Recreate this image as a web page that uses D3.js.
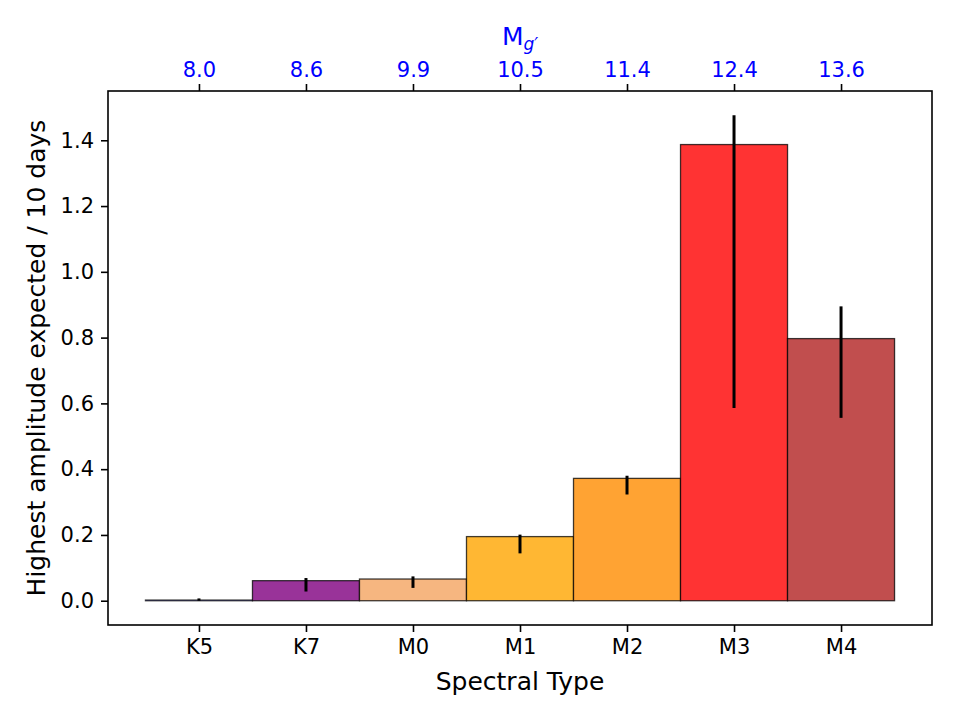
<!DOCTYPE html>
<html>
<head>
<meta charset="utf-8">
<script src="https://cdn.jsdelivr.net/npm/d3@7"></script>
<style>
  body { margin: 0; background: #fff; }
  text { font-family: "DejaVu Sans", sans-serif; }
</style>
</head>
<body>
<script>
// values
const spectralTypes = ["K5", "K7", "M0", "M1", "M2", "M3", "M4"];
const absMags = ["8.0", "8.6", "9.9", "10.5", "11.4", "12.4", "13.6"];
const amplitudes = [0.002, 0.061, 0.066, 0.195, 0.372, 1.387, 0.797];
const errLow = [0.000, 0.028, 0.039, 0.144, 0.323, 0.586, 0.556];
const errHigh = [0.007, 0.069, 0.074, 0.201, 0.380, 1.476, 0.895];
const yTicks = [0.0, 0.2, 0.4, 0.6, 0.8, 1.0, 1.2, 1.4];

// bar fills (matplotlib named colours at alpha 0.8 over white)
const barColors = ["#8080ff", "#993399", "#f6b680", "#ffb733", "#ffa333", "#ff3333", "#c14e4e"];

const W = 960, H = 720;
const mLeft = 108, mRight = 932, mTop = 91, mBottom = 625;

const svg = d3.select("body").append("svg")
    .attr("width", W)
    .attr("height", H);

const x = d3.scaleLinear().domain([-0.85, 6.85]).range([mLeft, mRight]);
const y = d3.scaleLinear().domain([-0.0738, 1.5498]).range([mBottom, mTop]);

const data = spectralTypes.map(function(t, i) {
    return { type: t, mag: absMags[i], amp: amplitudes[i], lo: errLow[i], hi: errHigh[i], color: barColors[i] };
});

// bars
svg.selectAll(".bar")
    .data(data)
    .enter().append("rect")
    .attr("class", "bar")
    .attr("x", function(d, i) { return x(i - 0.5); })
    .attr("width", function(d, i) { return x(i + 0.5) - x(i - 0.5); })
    .attr("y", function(d) { return y(d.amp); })
    .attr("height", function(d) { return y(0) - y(d.amp); })
    .attr("fill", function(d) { return d.color; })
    .attr("stroke", "#000")
    .attr("stroke-opacity", 0.75)
    .attr("stroke-width", 1.3);

// error bars
svg.selectAll(".err")
    .data(data)
    .enter().append("line")
    .attr("class", "err")
    .attr("x1", function(d, i) { return x(i); })
    .attr("x2", function(d, i) { return x(i); })
    .attr("y1", function(d) { return y(d.lo); })
    .attr("y2", function(d) { return y(d.hi); })
    .attr("stroke", "#000")
    .attr("stroke-width", 3);

// axes
const idx = d3.range(spectralTypes.length);

const xAxis = svg.append("g")
    .attr("transform", "translate(0," + mBottom + ")")
    .call(d3.axisBottom(x).tickValues(idx)
        .tickFormat(function(i) { return spectralTypes[i]; })
        .tickSize(7).tickPadding(7).tickSizeOuter(0));

const topAxis = svg.append("g")
    .attr("transform", "translate(0," + mTop + ")")
    .call(d3.axisTop(x).tickValues(idx)
        .tickFormat(function(i) { return absMags[i]; })
        .tickSize(7).tickPadding(7).tickSizeOuter(0));

const yAxis = svg.append("g")
    .attr("transform", "translate(" + mLeft + ",0)")
    .call(d3.axisLeft(y).tickValues(yTicks)
        .tickFormat(d3.format(".1f"))
        .tickSize(7).tickPadding(7).tickSizeOuter(0));

[xAxis, topAxis, yAxis].forEach(function(g) {
    g.select(".domain").remove();
    g.selectAll(".tick line").attr("stroke", "#000").attr("stroke-width", 1.6);
    g.selectAll(".tick text").attr("font-size", "21px").attr("fill", "#000")
        .style("font-family", "DejaVu Sans");
});
topAxis.selectAll(".tick text").attr("fill", "#0000ff");

// frame
svg.append("rect")
    .attr("x", mLeft)
    .attr("y", mTop)
    .attr("width", mRight - mLeft)
    .attr("height", mBottom - mTop)
    .attr("fill", "none")
    .attr("stroke", "#000")
    .attr("stroke-width", 1.6);

// labels
svg.append("text")
    .attr("x", (mLeft + mRight) / 2)
    .attr("y", 690)
    .attr("text-anchor", "middle")
    .attr("font-size", "25px")
    .text("Spectral Type");

svg.append("text")
    .attr("transform", "translate(45," + ((mTop + mBottom) / 2) + ") rotate(-90)")
    .attr("text-anchor", "middle")
    .attr("font-size", "25px")
    .text("Highest amplitude expected / 10 days");

const mLabel = svg.append("text")
    .attr("x", (mLeft + mRight) / 2)
    .attr("y", 45)
    .attr("text-anchor", "middle")
    .attr("font-size", "25px")
    .attr("fill", "#0000ff");
mLabel.append("tspan").text("M");
mLabel.append("tspan")
    .attr("font-size", "17px")
    .attr("font-style", "italic")
    .attr("dy", 5)
    .text("g\u2032");
</script>
</body>
</html>
